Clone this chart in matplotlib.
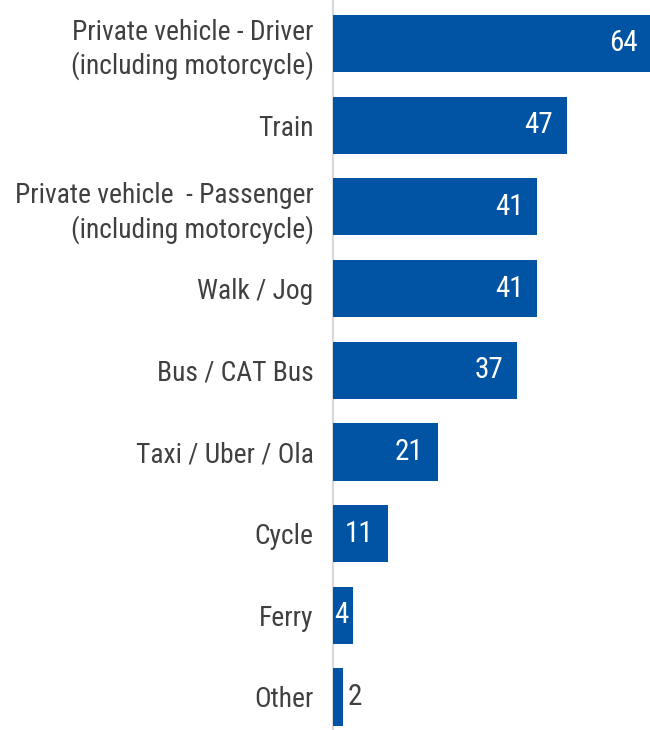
import matplotlib.pyplot as plt
from matplotlib import font_manager
from matplotlib.transforms import offset_copy

categories = [
    "Private vehicle - Driver\n(including motorcycle)",
    "Train",
    "Private vehicle  - Passenger\n(including motorcycle)",
    "Walk / Jog",
    "Bus / CAT Bus",
    "Taxi / Uber / Ola",
    "Cycle",
    "Ferry",
    "Other",
]
values = [64, 47, 41, 41, 37, 21, 11, 4, 2]

BAR_COLOR = "#0054A3"
TEXT_COLOR = "#404040"

installed = {f.name for f in font_manager.fontManager.ttflist}
family = "Liberation Sans"
for name in ("Arial Narrow", "Liberation Sans Narrow", "Roboto Condensed"):
    if name in installed:
        family = name
        break
plt.rcParams["font.family"] = [family, "DejaVu Sans"]

fig = plt.figure(figsize=(6.5, 7.3), dpi=100)
ax = fig.add_axes([333 / 650, 0, 1 - 333 / 650, 1])

positions = list(range(len(categories)))
ax.barh(positions, values, height=0.70, color=BAR_COLOR, zorder=2)

ax.set_xlim(0, 63.6)
ax.set_ylim(8.404, -0.532)
ax.set_yticks(positions)
ax.set_yticklabels(categories, fontsize=19.8, color=TEXT_COLOR, linespacing=1.25)
ax.tick_params(axis="y", length=0, pad=14)
ax.set_xticks([])

for side in ("top", "right", "bottom"):
    ax.spines[side].set_visible(False)
ax.spines["left"].set_color("#D9D9D9")
ax.spines["left"].set_linewidth(1.6)
ax.spines["left"].set_zorder(1)

# value labels: inside end for long bars, inside base for short ones, outside for tiny ones
for pos, val in zip(positions, values):
    if val >= 8:
        trans = offset_copy(ax.transData, fig=fig, x=-14, y=0, units="dots")
        ax.text(val, pos, str(val), transform=trans, ha="right", va="center",
                fontsize=21, color="white", zorder=3)
    elif val >= 3:
        trans = offset_copy(ax.transData, fig=fig, x=1, y=0, units="dots")
        ax.text(0, pos, str(val), transform=trans, ha="left", va="center",
                fontsize=21, color="white", zorder=3)
    else:
        trans = offset_copy(ax.transData, fig=fig, x=5, y=0, units="dots")
        ax.text(val, pos, str(val), transform=trans, ha="left", va="center",
                fontsize=21, color=TEXT_COLOR, zorder=3)

fig.savefig("out.png", dpi=100)
